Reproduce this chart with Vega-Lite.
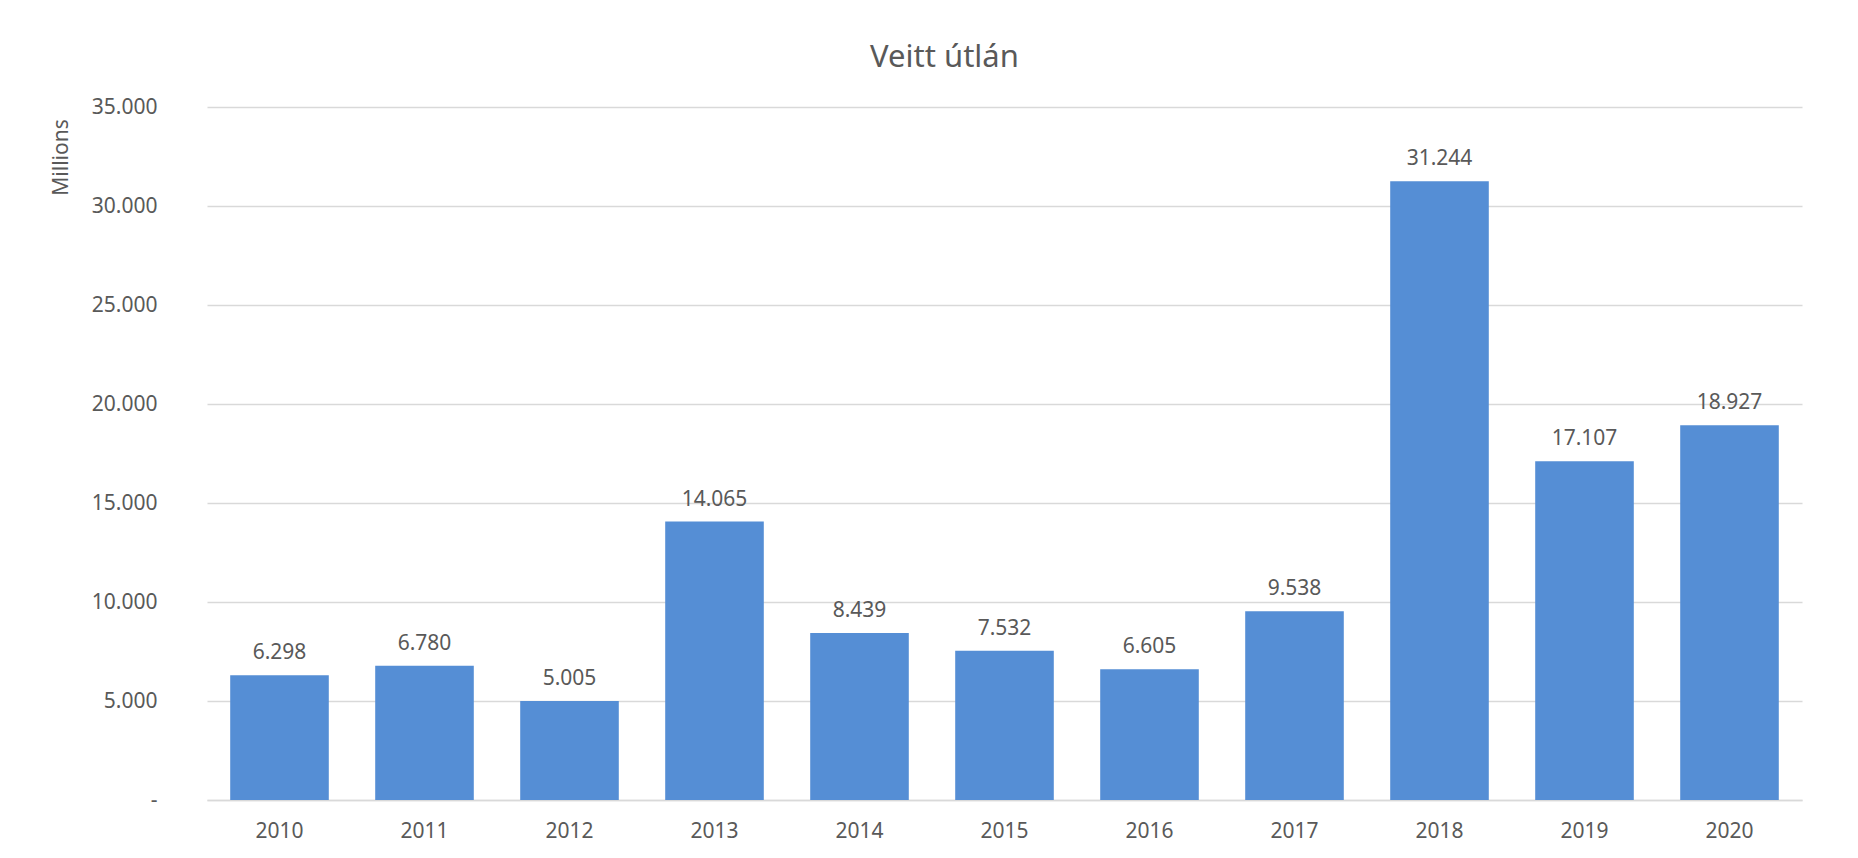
{
  "$schema": "https://vega.github.io/schema/vega-lite/v6.json",
  "autosize": "none",
  "width": 1595,
  "height": 693,
  "padding": {"left": 207, "top": 107, "right": 56, "bottom": 58},
  "background": "white",
  "config": {
    "locale": {"number": {"decimal": ",", "thousands": ".", "grouping": [3], "currency": ["", ""]}},
    "font": "Noto Sans",
    "view": {"stroke": null}
  },
  "title": {
    "text": "Veitt útlán",
    "fontSize": 31,
    "fontWeight": "normal",
    "color": "#595959",
    "font": "Noto Sans",
    "frame": "group",
    "anchor": "middle",
    "dx": -60,
    "baseline": "alphabetic",
    "offset": -2
  },
  "data": {
    "values": [
      {"year": "2010", "value": 6298},
      {"year": "2011", "value": 6780},
      {"year": "2012", "value": 5005},
      {"year": "2013", "value": 14065},
      {"year": "2014", "value": 8439},
      {"year": "2015", "value": 7532},
      {"year": "2016", "value": 6605},
      {"year": "2017", "value": 9538},
      {"year": "2018", "value": 31244},
      {"year": "2019", "value": 17107},
      {"year": "2020", "value": 18927}
    ]
  },
  "encoding": {
    "x": {
      "field": "year",
      "type": "ordinal",
      "scale": {"paddingInner": 0.32, "paddingOuter": 0.16},
      "axis": {
        "title": null,
        "labelAngle": 0,
        "labelFontSize": 21,
        "labelColor": "#595959",
        "labelPadding": 20,
        "ticks": false,
        "domainColor": "#d9d9d9",
        "domainWidth": 1.5
      }
    },
    "y": {
      "field": "value",
      "type": "quantitative",
      "scale": {"domain": [0, 35000], "nice": false},
      "axis": {
        "title": "Millions",
        "titleFontSize": 21,
        "titleFontWeight": "normal",
        "titleColor": "#595959",
        "titleAngle": 270,
        "titleAlign": "center",
        "titleBaseline": "middle",
        "titleX": -146,
        "titleY": 50,
        "values": [0, 5000, 10000, 15000, 20000, 25000, 30000, 35000],
        "labelExpr": "datum.value === 0 ? '-     ' : format(datum.value, ',d')",
        "labelFontSize": 21,
        "labelColor": "#595959",
        "labelPadding": 50,
        "ticks": false,
        "domain": false,
        "gridColor": "#d9d9d9",
        "gridWidth": 1.5
      }
    }
  },
  "layer": [
    {"mark": {"type": "bar", "color": "#558ed5"}},
    {
      "mark": {"type": "text", "baseline": "alphabetic", "dy": -16, "fontSize": 21, "color": "#595959"},
      "encoding": {"text": {"field": "value", "type": "quantitative", "format": ",d"}}
    }
  ]
}
